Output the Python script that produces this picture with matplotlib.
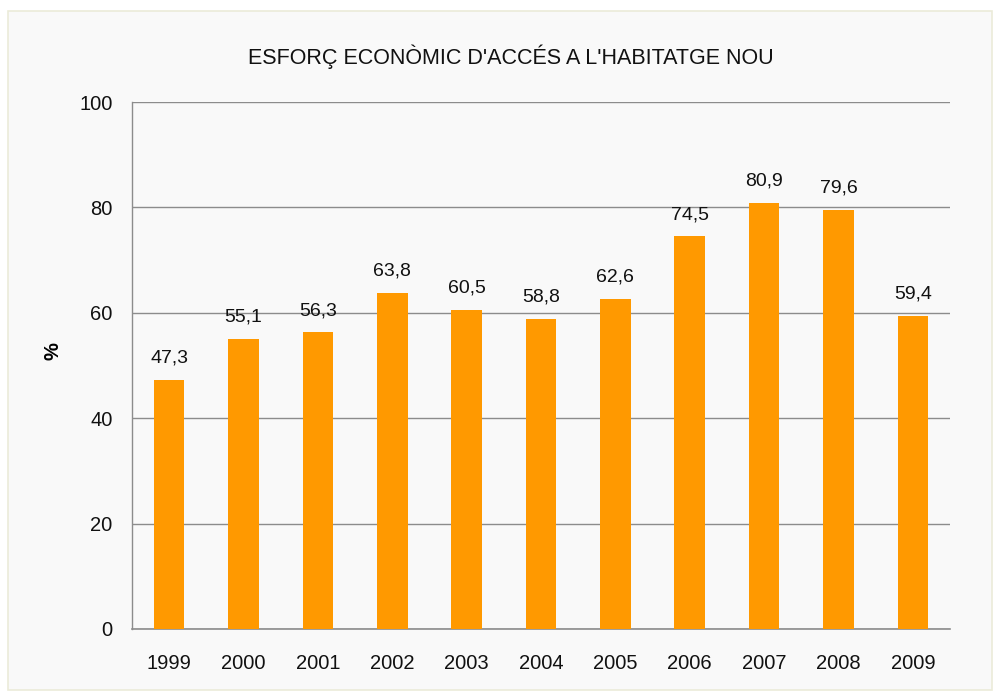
import matplotlib.pyplot as plt
from matplotlib.patches import Rectangle

years = ["1999", "2000", "2001", "2002", "2003", "2004", "2005", "2006", "2007", "2008", "2009"]
values = [47.3, 55.1, 56.3, 63.8, 60.5, 58.8, 62.6, 74.5, 80.9, 79.6, 59.4]
yticks = [0, 20, 40, 60, 80, 100]

plt.rcParams['font.family'] = ['Liberation Sans', 'DejaVu Sans']

W, H = 995, 697
fig = plt.figure(figsize=(W / 100, H / 100), dpi=100)
fig.patch.set_facecolor("white")

# outer frame of the chart
frame = Rectangle((8 / W, 1 - 690 / H), 984 / W, 679 / H,
                  transform=fig.transFigure, facecolor="#f9f9f9",
                  edgecolor="#ebebd9", linewidth=1.2, zorder=-5)
fig.add_artist(frame)

ax = fig.add_axes([132 / W, 1 - 629 / H, 818 / W, 527 / H])
ax.set_facecolor("#f9f9f9")

x = range(len(years))
ax.bar(x, values, width=0.41, color="#ff9900", zorder=3)
for i, v in enumerate(values):
    ax.text(i, v + 2.5, f"{v:.1f}".replace(".", ","), ha="center", va="bottom",
            fontsize=14, color="#111111")

ax.set_xlim(-0.5, len(years) - 0.5)
ax.set_ylim(0, 100)
ax.set_yticks(yticks)
ax.set_xticks(list(x))
ax.set_xticklabels(years)
ax.tick_params(axis="both", length=0, labelsize=14.5, colors="#111111")
ax.tick_params(axis="x", pad=18)
ax.tick_params(axis="y", pad=14)
ax.yaxis.grid(True, color="#8c8c8c", linewidth=1, zorder=0)

for side in ["top", "right"]:
    ax.spines[side].set_visible(False)
ax.spines["left"].set_color("#8c8c8c")
ax.spines["bottom"].set_color("#8c8c8c")
ax.spines["left"].set_linewidth(1)
ax.spines["bottom"].set_linewidth(1.2)

ax.set_ylabel("%", fontsize=14.5, fontweight="bold")
ax.yaxis.set_label_coords(-0.085, 0.527)
fig.text(511 / W, 1 - 57 / H, "ESFORÇ ECONÒMIC D'ACCÉS A L'HABITATGE NOU",
         ha="center", va="center", fontsize=15.5, color="#111111")

fig.savefig("out.png", dpi=100, facecolor=fig.get_facecolor())
